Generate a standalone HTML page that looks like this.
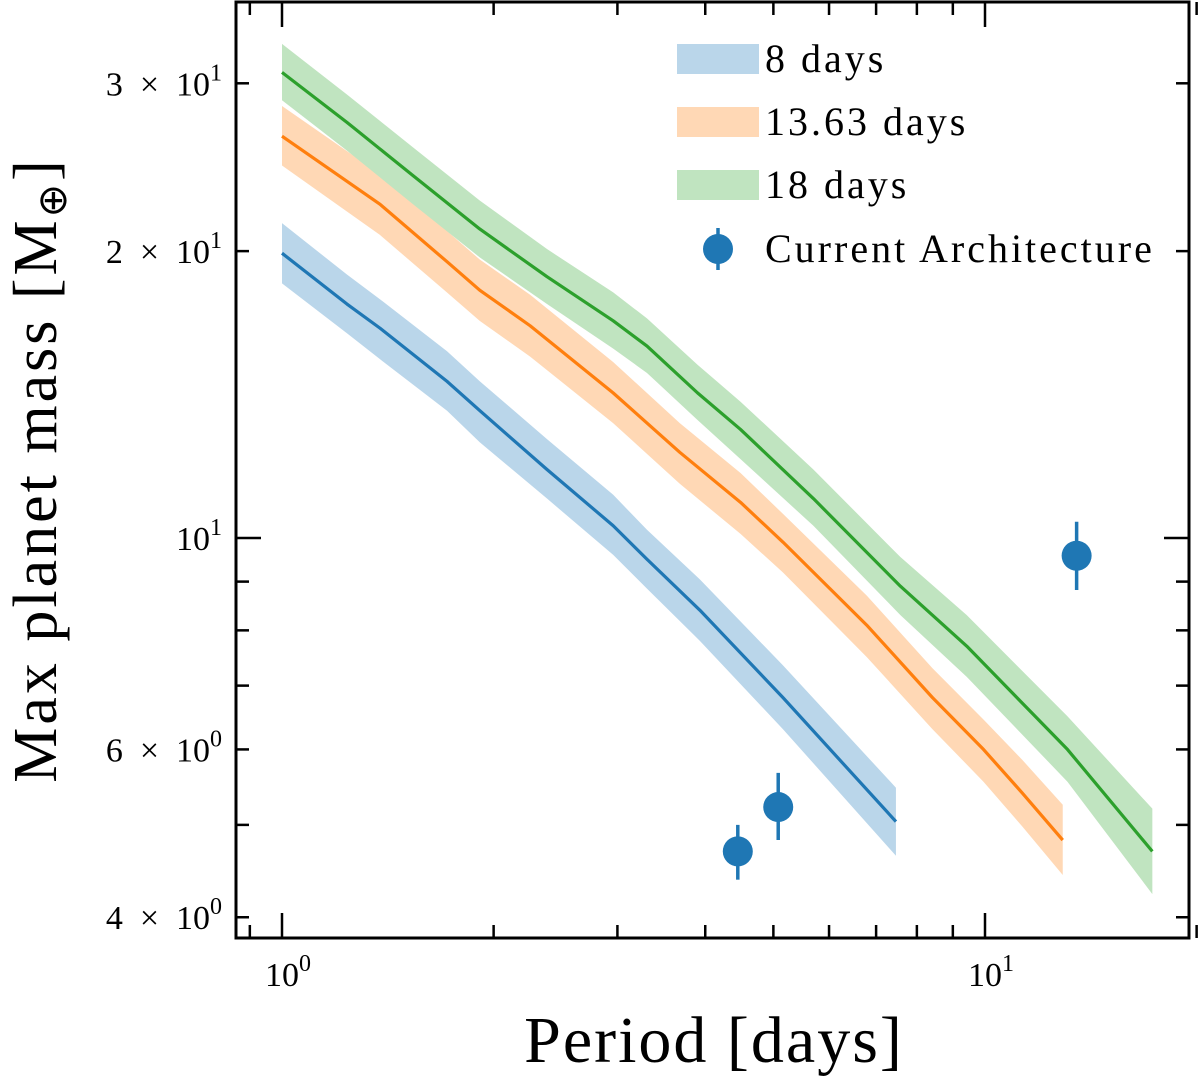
<!DOCTYPE html>
<html><head><meta charset="utf-8"><style>
body{margin:0;background:#fff}
svg{display:block;font-family:"Liberation Serif",serif}
</style></head><body>
<svg id="chart" width="1200" height="1079" viewBox="0 0 1200 1079">
<g id="bands"></g><g id="lines"></g><g id="points"></g><g id="axes"></g><g id="legend"></g>
</svg>
<script>
const periods8 = [1, 1.237, 1.379, 1.717, 1.912, 2.382, 2.959, 3.305, 3.93, 5.16, 7.47];
const mass8 = [19.9, 17.6, 16.6, 14.6, 13.6, 11.8, 10.3, 9.5, 8.4, 6.8, 5.04];
const hi8 = [21.4, 18.9, 17.8, 15.7, 14.6, 12.7, 11.1, 10.2, 9.05, 7.35, 5.47];
const lo8 = [18.5, 16.4, 15.4, 13.6, 12.6, 11.0, 9.6, 8.85, 7.8, 6.3, 4.64];
const periods13 = [1, 1.378, 1.716, 1.911, 2.254, 2.958, 3.68, 4.49, 5.16, 6.79, 8.42, 9.95, 11.3, 12.9];
const mass13 = [26.4, 22.4, 19.5, 18.2, 16.7, 14.2, 12.3, 10.9, 9.9, 8.1, 6.8, 6.0, 5.4, 4.82];
const hi13 = [28.4, 24.1, 21.0, 19.6, 18.0, 15.3, 13.2, 11.7, 10.6, 8.7, 7.3, 6.45, 5.85, 5.25];
const lo13 = [24.6, 20.8, 18.1, 16.9, 15.5, 13.2, 11.4, 10.1, 9.2, 7.5, 6.3, 5.55, 4.98, 4.43];
const periods18 = [1, 1.237, 1.536, 1.911, 2.382, 2.959, 3.305, 3.9, 4.49, 5.7, 7.58, 9.42, 13.1, 17.3];
const mass18 = [30.8, 27.3, 24.0, 21.1, 18.8, 16.9, 15.9, 14.2, 13.0, 11.0, 8.9, 7.7, 6.0, 4.69];
const hi18 = [33.0, 29.2, 25.7, 22.6, 20.1, 18.1, 17.0, 15.2, 13.9, 11.8, 9.55, 8.3, 6.5, 5.2];
const lo18 = [28.8, 25.5, 22.4, 19.7, 17.6, 15.8, 14.9, 13.3, 12.1, 10.3, 8.3, 7.15, 5.55, 4.23];
const obsPeriod = [4.45, 5.08, 13.5];
const obsMass = [4.69, 5.22, 9.58];
const obsLo = [4.38, 4.82, 8.82];
const obsHi = [5.0, 5.67, 10.4];
const yTickVals = [4, 6, 10, 20, 30];
const yTickBase = ['4\u2002×\u200210', '6\u2002×\u200210', '10', '2\u2002×\u200210', '3\u2002×\u200210'];
const yTickExp = ['0', '0', '1', '1', '1'];
const yMinor = [5, 7, 8, 9];
const xMajor = [1, 10];
const xMajorExp = ['0', '1'];
const xMinor = [0.9, 2, 3, 4, 5, 6, 7, 8, 9, 20];

const L=236,R=1189,T=2,B=938;
const X=p=>282+703*Math.log10(p);
const Y=m=>538-953*Math.log10(m/10);
const NS='http://www.w3.org/2000/svg';
function mk(t,a,parent){const e=document.createElementNS(NS,t);for(const k in a)e.setAttribute(k,a[k]);parent.appendChild(e);return e;}
const gb=document.getElementById('bands'),gl=document.getElementById('lines'),gp=document.getElementById('points'),ga=document.getElementById('axes'),gg=document.getElementById('legend');
const series=[[periods8,mass8,lo8,hi8,'#1f77b4','#bad6ea','8-days'],[periods13,mass13,lo13,hi13,'#ff7f0e','#ffd8b5','13-63-days'],[periods18,mass18,lo18,hi18,'#2ca02c','#c0e4c0','18-days']];
series.forEach(s=>{
  const [p,m,lo,hi,c,f,n]=s;
  let d='M'+p.map((v,i)=>X(v)+','+Y(hi[i])).join('L')+'L'+p.map((v,i)=>X(v)+','+Y(lo[i])).reverse().join('L')+'Z';
  const b=mk('path',{d:d,fill:f},gb);
  
  
  const l=mk('polyline',{points:p.map((v,i)=>X(v)+','+Y(m[i])).join(' '),fill:'none',stroke:c,'stroke-width':3.2,'stroke-linejoin':'round'},gl);
  
  
});
obsPeriod.forEach((p,i)=>{
  const e=mk('line',{x1:X(p),x2:X(p),y1:Y(obsLo[i]),y2:Y(obsHi[i]),stroke:'#1f77b4','stroke-width':3.5},gp);
  
  
  const c=mk('circle',{cx:X(p),cy:Y(obsMass[i]),r:15,fill:'#1f77b4'},gp);
  
  
});
const fr=mk('rect',{x:L,y:T,width:R-L,height:B-T,fill:'none',stroke:'#000','stroke-width':3},ga);


function tick(x1,y1,x2,y2){mk('line',{x1,y1,x2,y2,stroke:'#000','stroke-width':2.5},ga);}
xMajor.forEach(v=>{const x=X(v);tick(x,B,x,B-25);tick(x,T,x,T+25);});
xMinor.forEach(v=>{const x=X(v);tick(x,B,x,B-13);tick(x,T,x,T+13);});
yTickVals.concat(yMinor).forEach(v=>{const y=Y(v);const len=v===10?25:13;tick(L,y,L+len,y);tick(R,y,R-len,y);});
function supText(x,y,base,exp,anchor,name){
  const t=mk('text',{x:x,y:y,'font-size':34,'text-anchor':anchor},ga);
  
  
  const a=mk('tspan',{},t);a.textContent=base;
  const b=mk('tspan',{dy:-15,'font-size':24},t);b.textContent=exp;
  return t;
}
xMajor.forEach((v,i)=>{supText(X(v)+6,B+48,'10',xMajorExp[i],'middle','x-tick-label');});
yTickVals.forEach((v,i)=>{supText(222,Y(v)+12,yTickBase[i],yTickExp[i],'end','y-tick-label');});
const xt=mk('text',{x:714,y:1062,'font-size':66,'text-anchor':'middle','letter-spacing':2},ga);xt.textContent='Period [days]';


const yt=mk('text',{x:0,y:0,'font-size':62,'text-anchor':'middle','letter-spacing':3,transform:'translate(56,470) rotate(-90)'},ga);


const y1=mk('tspan',{},yt);y1.textContent='Max planet mass [M';
const y2=mk('tspan',{'font-size':40,dy:10},yt);y2.textContent='⊕';
const y3=mk('tspan',{dy:-10},yt);y3.textContent=']';
const leg=[['8 days','#bad6ea',59],['13.63 days','#ffd8b5',122],['18 days','#c0e4c0',185]];
leg.forEach(r=>{const p=mk('rect',{x:677,y:r[2]-15,width:82,height:30,fill:r[1]},gg);
  
  
  const t=mk('text',{x:765,y:r[2]+13,'font-size':40,'letter-spacing':3},gg);t.textContent=r[0];
  
  });
mk('line',{x1:718,x2:718,y1:228,y2:270,stroke:'#1f77b4','stroke-width':3.5},gg);
const lc=mk('circle',{cx:718,cy:249,r:15,fill:'#1f77b4'},gg);


const lt=mk('text',{x:765,y:262,'font-size':40,'letter-spacing':3},gg);lt.textContent='Current Architecture';


</script>
</body></html>
